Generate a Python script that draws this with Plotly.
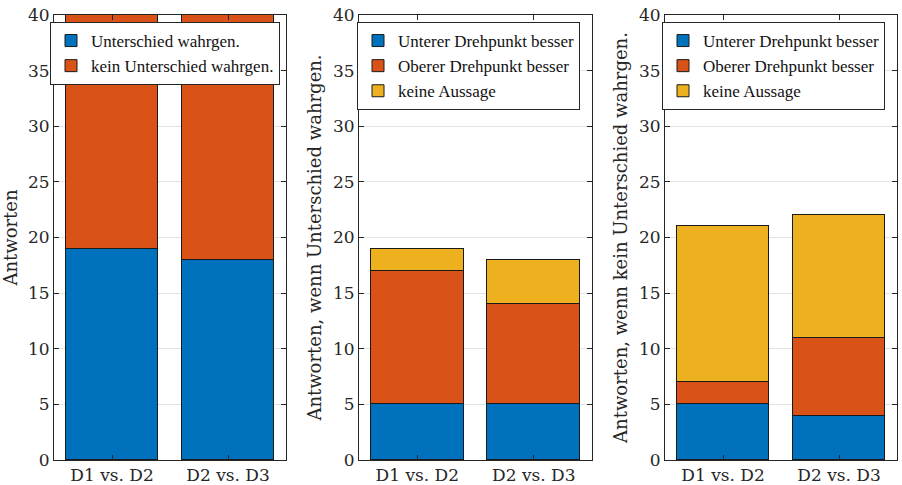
import plotly.graph_objects as go

categories = ["D1 vs. D2", "D2 vs. D3"]

# Panel 1
p1_names = ["Unterschied wahrgen.", "kein Unterschied wahrgen."]
p1_yes = [19, 18]
p1_no = [21, 22]

# Panel 2 (wenn Unterschied wahrgenommen)
p23_names = ["Unterer Drehpunkt besser", "Oberer Drehpunkt besser", "keine Aussage"]
p2_lower = [5, 5]
p2_upper = [12, 9]
p2_none = [2, 4]

# Panel 3 (wenn kein Unterschied wahrgenommen)
p3_lower = [5, 4]
p3_upper = [2, 7]
p3_none = [14, 11]

y_titles = ["Antworten", "Antworten, wenn Unterschied wahrgen.",
            "Antworten, wenn kein Unterschied wahrgen."]
y_ticks = [0, 5, 10, 15, 20, 25, 30, 35, 40]

colors = ["#0072BD", "#D95319", "#EDB120"]
FONT = "DejaVu Serif"
LFONT = "Liberation Serif"
W, H = 902, 485

fig = go.Figure()

panels = [
    (list(zip(p1_names, [p1_yes, p1_no])), "legend"),
    (list(zip(p23_names, [p2_lower, p2_upper, p2_none])), "legend2"),
    (list(zip(p23_names, [p3_lower, p3_upper, p3_none])), "legend3"),
]

for i, (series, leg) in enumerate(panels):
    ax = "" if i == 0 else str(i + 1)
    for j, (name, vals) in enumerate(series):
        fig.add_trace(go.Bar(
            x=categories, y=vals, name=name,
            marker=dict(color=colors[j], line=dict(color="#1a1a1a", width=1)),
            width=0.8, xaxis="x" + ax, yaxis="y" + ax, legend=leg,
        ))

x_doms = [(54, 286), (359, 592), (665, 897)]
y_dom = [25 / H, 470 / H]
leg_pos = [50, 357, 662]

axis_col = "#262626"
layout = dict(
    barmode="stack",
    width=W, height=H,
    margin=dict(l=0, r=0, t=0, b=0, autoexpand=False),
    paper_bgcolor="white", plot_bgcolor="white",
    font=dict(family=FONT, size=17, color=axis_col),
    showlegend=True,
    bargap=0,
)
for i, (a, b) in enumerate(x_doms):
    ax = "" if i == 0 else str(i + 1)
    layout["xaxis" + ax] = dict(
        domain=[a / W, b / W], anchor="y" + ax, type="category",
        range=[-0.5, 1.5], showline=True, linecolor=axis_col, linewidth=1,
        mirror="ticks", ticks="inside", ticklen=5, tickcolor=axis_col,
        tickfont=dict(family=FONT, size=17, color=axis_col), showgrid=False,
        automargin=False, layer="above traces",
    )
    layout["yaxis" + ax] = dict(
        domain=y_dom, anchor="x" + ax, range=[0, 40],
        tickvals=y_ticks, showline=True, linecolor=axis_col, linewidth=1,
        mirror="ticks", ticks="inside", ticklen=5, tickcolor=axis_col,
        tickfont=dict(family=FONT, size=17, color=axis_col),
        showgrid=True, gridcolor="#e2e2e2", gridwidth=1, zeroline=False,
        automargin=False, layer="above traces",
        title=dict(text=y_titles[i], font=dict(family=FONT, size=18, color=axis_col), standoff=6),
    )
    lname = "legend" if i == 0 else "legend" + str(i + 1)
    layout[lname] = dict(
        x=leg_pos[i] / W, y=(H - 22) / H, xanchor="left", yanchor="top",
        bgcolor="white", bordercolor=axis_col, borderwidth=1,
        font=dict(family=LFONT, size=17, color="#111111"),
        itemwidth=30, tracegroupgap=0, traceorder="normal",
    )

fig.update_layout(**layout)
fig.write_html("out.html")
